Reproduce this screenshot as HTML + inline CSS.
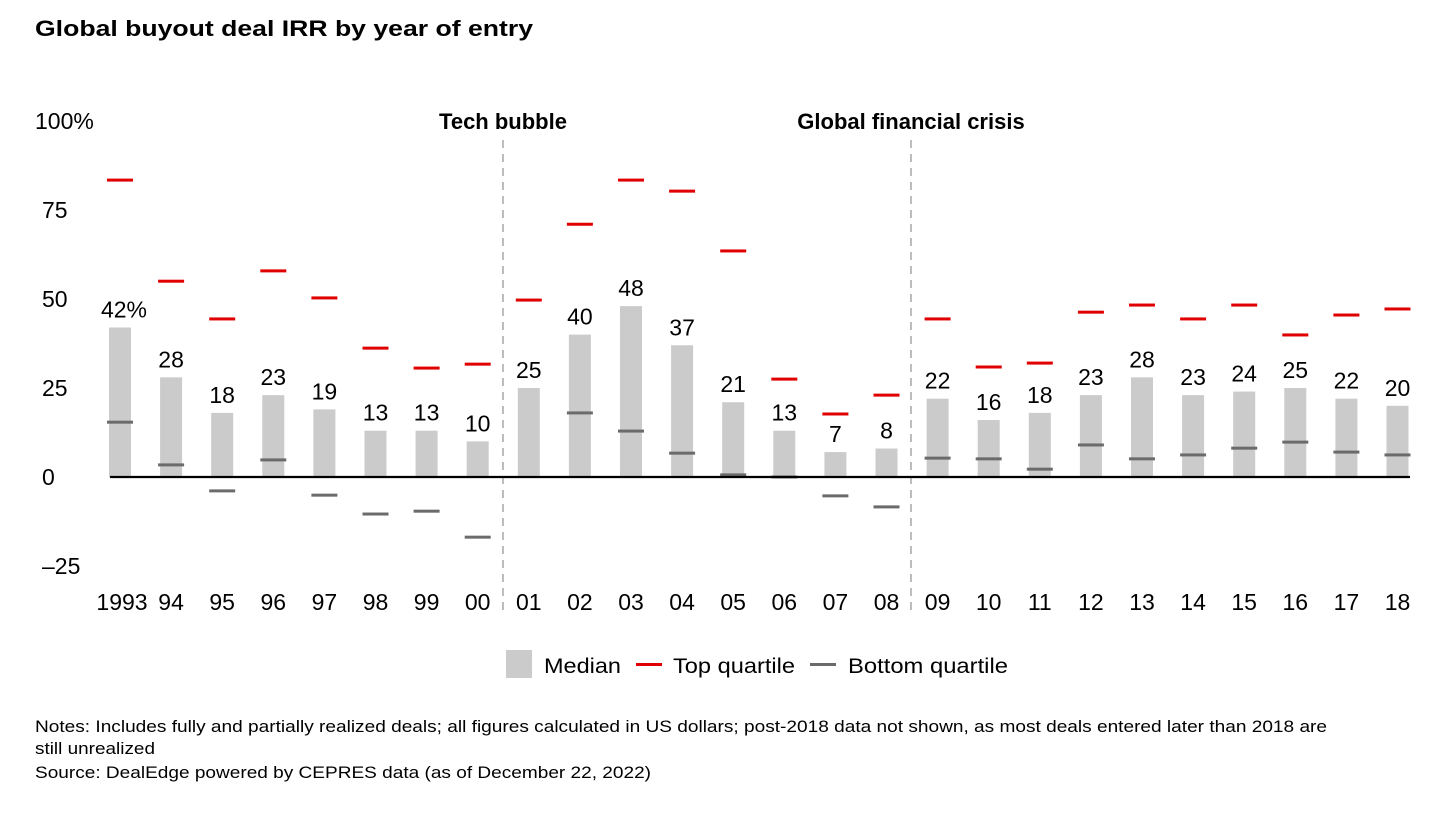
<!DOCTYPE html>
<html><head><meta charset="utf-8"><style>
body{margin:0;background:#fff;font-family:"Liberation Sans",Arial,sans-serif;}
svg text{font-family:"Liberation Sans",Arial,sans-serif;}
</style></head><body>
<svg id="c" width="1438" height="810" xmlns="http://www.w3.org/2000/svg">
<text x="35" y="36" font-size="22" font-weight="bold" fill="#000" textLength="498" lengthAdjust="spacingAndGlyphs">Global buyout deal IRR by year of entry</text>
<g id="g"></g>
<g>
<rect x="506" y="650" width="26" height="28" fill="#cbcbcb"/>
<text x="544" y="673" font-size="21" textLength="77" lengthAdjust="spacingAndGlyphs">Median</text>
<rect x="636" y="663" width="26" height="3" fill="#e00000"/>
<text x="673" y="673" font-size="21" textLength="122" lengthAdjust="spacingAndGlyphs">Top quartile</text>
<rect x="810" y="663" width="26" height="3" fill="#6b6b6b"/>
<text x="848" y="673" font-size="21" textLength="160" lengthAdjust="spacingAndGlyphs">Bottom quartile</text>
</g>
<g font-size="16.5" fill="#000">
<text x="35" y="732" textLength="1292" lengthAdjust="spacingAndGlyphs">Notes: Includes fully and partially realized deals; all figures calculated in US dollars; post-2018 data not shown, as most deals entered later than 2018 are</text>
<text x="35" y="754" textLength="120" lengthAdjust="spacingAndGlyphs">still unrealized</text>
<text x="35" y="778" textLength="616" lengthAdjust="spacingAndGlyphs">Source: DealEdge powered by CEPRES data (as of December 22, 2022)</text>
</g>
</svg>
<script>
const years=["1993","94","95","96","97","98","99","00","01","02","03","04","05","06","07","08","09","10","11","12","13","14","15","16","17","18"];
const median=[42,28,18,23,19,13,13,10,25,40,48,37,21,13,7,8,22,16,18,23,28,23,24,25,22,20];
const medianLabels=["42%","28","18","23","19","13","13","10","25","40","48","37","21","13","7","8","22","16","18","23","28","23","24","25","22","20"];
const topQ=[83.4,55,44.4,57.9,50.3,36.2,30.6,31.7,49.7,71,83.4,80.3,63.5,27.5,17.7,23,44.4,30.9,32,46.3,48.3,44.4,48.3,39.9,45.5,47.2];
const bottomQ=[15.4,3.4,-3.9,4.8,-5.1,-10.4,-9.6,-16.9,null,18,12.9,6.7,0.6,0,-5.3,-8.4,5.3,5.1,2.2,9,5.1,6.2,8.1,9.8,7,6.2];
const yTicks=[100,75,50,25,0,-25];
const yTickLabels=["100%","75","50","25","0","–25"];
const NS="http://www.w3.org/2000/svg";
const g=document.getElementById('g');
const FS=23;
const y=v=>477-v*3.56;
const x=i=>120+i*51.1;
function el(t,a){const e=document.createElementNS(NS,t);for(const k in a)e.setAttribute(k,a[k]);g.appendChild(e);return e;}
yTicks.forEach((t,i)=>{const e=el('text',{x:i==0?35:42,y:y(t)+8,'font-size':FS,fill:'#000'});e.textContent=yTickLabels[i];

});
[503,911].forEach(xx=>{const l=el('line',{x1:xx,x2:xx,y1:140,y2:610,stroke:'#999','stroke-width':1.3,'stroke-dasharray':'8,6'});

});
[["Tech bubble",503],["Global financial crisis",911]].forEach(a=>{const e=el('text',{x:a[1],y:129,'font-size':22,'font-weight':'bold','text-anchor':'middle'});e.textContent=a[0];

});
years.forEach((yr,i)=>{
const cx=x(i);
const b=el('rect',{x:cx-11,y:Math.min(y(median[i]),477),width:22,height:Math.abs(477-y(median[i])),fill:'#cbcbcb'});


const vl=el('text',{x:cx+(i==0?4:0),y:y(median[i])-10,'font-size':FS,'text-anchor':'middle'});vl.textContent=medianLabels[i];


const t=el('rect',{x:cx-13,y:y(topQ[i])-1.5,width:26,height:3,fill:'#e00000'});


if(bottomQ[i]!==null){const bq=el('rect',{x:cx-13,y:y(bottomQ[i])-1.5,width:26,height:3,fill:'#6b6b6b'});

}
const xl=el('text',{x:cx+(i==0?2:0),y:610,'font-size':FS,'text-anchor':'middle'});xl.textContent=yr;


});
const ax=el('line',{x1:110,x2:1410,y1:477,y2:477,stroke:'#000','stroke-width':2.2});


</script>
</body></html>
